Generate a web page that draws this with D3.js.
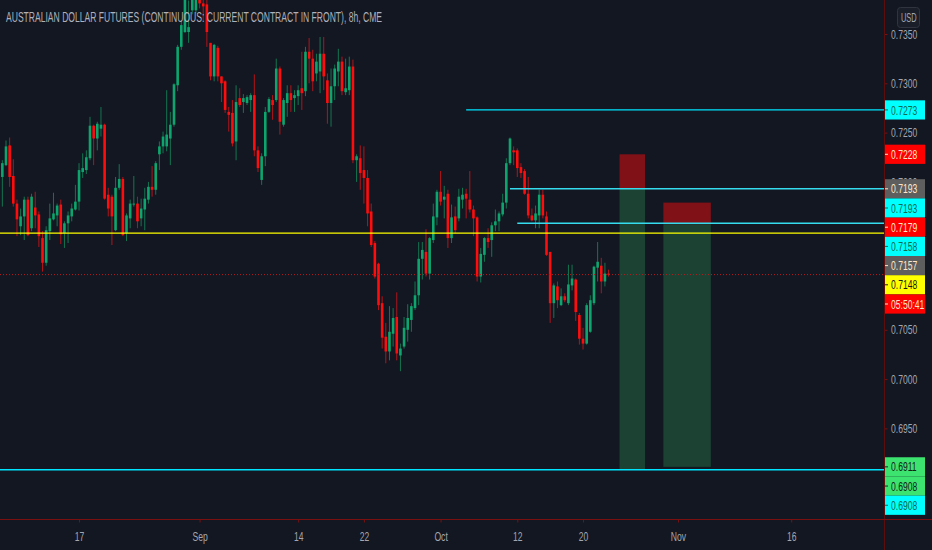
<!DOCTYPE html>
<html><head><meta charset="utf-8">
<script src="https://cdn.jsdelivr.net/npm/d3@7"></script>
<style>html,body{margin:0;padding:0;background:#131722;overflow:hidden}</style>
</head><body><svg id="c" width="932" height="550"></svg>
<script>
const title = "AUSTRALIAN DOLLAR FUTURES (CONTINUOUS: CURRENT CONTRACT IN FRONT), 8h, CME";

const opens = [0.7194,0.7205,0.7217,0.7237,0.7206,0.7178,0.7155,0.7165,0.7182,0.7153,0.7174,0.7167,0.7143,0.7118,0.7150,0.7162,0.7166,0.7177,0.7148,0.7158,0.7165,0.7172,0.7180,0.7210,0.7212,0.7224,0.7257,0.7244,0.7254,0.7258,0.7187,0.7185,0.7151,0.7194,0.7203,0.7148,0.7163,0.7177,0.7178,0.7163,0.7172,0.7182,0.7195,
0.7192,0.7228,0.7236,0.7236,0.7244,0.7258,0.7298,0.7337,0.7352,0.7352,0.7374,0.7374,0.7386,0.7381,0.7380,0.7341,0.7307,0.7336,0.7307,0.7302,0.7271,0.7270,0.7241,0.7285,0.7281,0.7280,0.7283,0.7288,0.7232,0.7202,0.7226,0.7271,0.7283,0.7283,0.7315,0.7258,0.7280,0.7290,0.7285,0.7287,0.7295,
0.7292,0.7332,0.7325,0.7310,0.7312,0.7330,0.7303,0.7280,0.7297,0.7312,0.7322,0.7291,0.7293,0.7317,0.7222,0.7224,0.7212,0.7204,0.7170,0.7138,0.7117,0.7077,0.7043,0.7028,0.7046,0.7063,0.7024,0.7033,0.7050,0.7060,0.7072,0.7085,0.7122,0.7129,0.7107,0.7141,0.7164,0.7190,0.7182,0.7188,0.7143,
0.7165,0.7163,0.7182,0.7188,0.7182,0.7172,0.7164,0.7104,0.7126,0.7143,0.7141,0.7156,0.7160,0.7167,0.7179,0.7219,0.7232,0.7232,0.7215,0.7211,0.7188,0.7166,0.7161,0.7166,0.7187,0.7165,0.7129,0.7077,0.7094,0.7075,0.7084,0.7077,0.7095,0.7101,0.7065,0.7041,0.7036,0.7048,0.7077,0.7113,0.7115,0.7099,0.7107];
const highs = [0.7209,0.7222,0.7242,0.7245,0.7223,0.7182,0.7173,0.7185,0.7185,0.7188,0.7190,0.7170,0.7150,0.7155,0.7178,0.7189,0.7178,0.7182,0.7160,0.7170,0.7178,0.7197,0.7219,0.7229,0.7232,0.7266,0.7258,0.7261,0.7276,0.7259,0.7194,0.7187,0.7205,0.7218,0.7205,0.7168,0.7182,0.7206,0.7185,0.7183,0.7194,0.7200,0.7216,
0.7221,0.7241,0.7251,0.7293,0.7271,0.7300,0.7339,0.7364,0.7395,0.7384,0.7398,0.7395,0.7395,0.7390,0.7386,0.7341,0.7340,0.7338,0.7307,0.7303,0.7276,0.7283,0.7298,0.7295,0.7289,0.7288,0.7290,0.7309,0.7236,0.7229,0.7276,0.7286,0.7288,0.7325,0.7317,0.7285,0.7298,0.7298,0.7293,0.7298,0.7332,
0.7337,0.7346,0.7334,0.7330,0.7347,0.7347,0.7310,0.7315,0.7319,0.7335,0.7327,0.7325,0.7327,0.7324,0.7228,0.7237,0.7236,0.7212,0.7178,0.7140,0.7118,0.7084,0.7057,0.7074,0.7072,0.7088,0.7036,0.7063,0.7076,0.7077,0.7099,0.7139,0.7139,0.7152,0.7144,0.7178,0.7192,0.7211,0.7196,0.7192,0.7177,
0.7175,0.7193,0.7194,0.7193,0.7211,0.7176,0.7165,0.7133,0.7144,0.7153,0.7159,0.7172,0.7170,0.7188,0.7224,0.7245,0.7236,0.7234,0.7219,0.7213,0.7205,0.7173,0.7176,0.7192,0.7192,0.7170,0.7129,0.7097,0.7099,0.7092,0.7087,0.7116,0.7116,0.7102,0.7067,0.7052,0.7077,0.7085,0.7115,0.7139,0.7123,0.7118,0.7111];
const lows = [0.7192,0.7175,0.7216,0.7195,0.7175,0.7145,0.7146,0.7141,0.7145,0.7150,0.7153,0.7134,0.7109,0.7115,0.7141,0.7161,0.7155,0.7137,0.7133,0.7138,0.7160,0.7171,0.7171,0.7204,0.7208,0.7222,0.7217,0.7232,0.7246,0.7182,0.7165,0.7136,0.7150,0.7192,0.7145,0.7140,0.7153,0.7175,0.7153,0.7155,0.7151,0.7178,0.7185,
0.7187,0.7212,0.7229,0.7231,0.7217,0.7256,0.7292,0.7334,0.7351,0.7341,0.7370,0.7371,0.7376,0.7364,0.7337,0.7303,0.7302,0.7302,0.7281,0.7270,0.7251,0.7236,0.7222,0.7276,0.7270,0.7278,0.7271,0.7226,0.7210,0.7197,0.7216,0.7270,0.7263,0.7281,0.7248,0.7256,0.7266,0.7271,0.7271,0.7278,0.7273,
0.7287,0.7300,0.7292,0.7302,0.7290,0.7293,0.7259,0.7256,0.7283,0.7297,0.7288,0.7288,0.7288,0.7219,0.7200,0.7192,0.7178,0.7155,0.7134,0.7102,0.7070,0.7031,0.7016,0.7019,0.7033,0.7019,0.7008,0.7031,0.7038,0.7048,0.7070,0.7075,0.7101,0.7104,0.7101,0.7138,0.7156,0.7176,0.7163,0.7133,0.7138,
0.7148,0.7160,0.7173,0.7163,0.7169,0.7145,0.7099,0.7098,0.7119,0.7133,0.7124,0.7150,0.7150,0.7165,0.7173,0.7217,0.7217,0.7205,0.7204,0.7187,0.7163,0.7160,0.7153,0.7153,0.7163,0.7125,0.7057,0.7062,0.7072,0.7074,0.7078,0.7075,0.7090,0.7059,0.7035,0.7030,0.7035,0.7047,0.7075,0.7099,0.7087,0.7094,0.7104];
const closes = [0.7206,0.7219,0.7236,0.7205,0.7178,0.7162,0.7165,0.7182,0.7146,0.7185,0.7166,0.7145,0.7118,0.7151,0.7163,0.7168,0.7176,0.7147,0.7158,0.7166,0.7173,0.7180,0.7212,0.7214,0.7225,0.7257,0.7244,0.7259,0.7258,0.7183,0.7173,0.7165,0.7194,0.7203,0.7146,0.7166,0.7178,0.7178,0.7160,0.7173,0.7183,0.7195,0.7192,
0.7219,0.7236,0.7246,0.7248,0.7258,0.7299,0.7337,0.7359,0.7388,0.7357,0.7391,0.7388,0.7381,0.7378,0.7352,0.7307,0.7339,0.7307,0.7300,0.7273,0.7268,0.7239,0.7281,0.7278,0.7285,0.7286,0.7288,0.7232,0.7214,0.7226,0.7271,0.7284,0.7278,0.7315,0.7261,0.7283,0.7290,0.7283,0.7288,0.7293,0.7290,
0.7332,0.7325,0.7302,0.7322,0.7330,0.7307,0.7280,0.7297,0.7315,0.7322,0.7292,0.7295,0.7317,0.7222,0.7226,0.7209,0.7204,0.7168,0.7136,0.7104,0.7075,0.7042,0.7028,0.7048,0.7062,0.7026,0.7031,0.7052,0.7062,0.7074,0.7085,0.7122,0.7131,0.7107,0.7143,0.7165,0.7190,0.7180,0.7185,0.7143,0.7164,
0.7151,0.7185,0.7187,0.7183,0.7172,0.7163,0.7104,0.7127,0.7143,0.7139,0.7156,0.7160,0.7168,0.7179,0.7219,0.7244,0.7230,0.7214,0.7209,0.7188,0.7166,0.7161,0.7168,0.7187,0.7166,0.7126,0.7077,0.7095,0.7080,0.7084,0.7080,0.7096,0.7102,0.7068,0.7041,0.7036,0.7075,0.7080,0.7114,0.7119,0.7099,0.7107,0.7106];

const priceTicks = [0.6950,0.7000,0.7050,0.7100,0.7150,0.7200,0.7250,0.7300,0.7350];
const dateTickBars = [22,55,82,100,121,142,160,186,217];
const dateTickLabels = ["17","Sep","14","22","Oct","12","20","Nov","16"];

const lastPrice = 0.7106;
const countdown = "05:50:41";

const posFrom   = [170,182];
const posTo     = [177,195];
const posStop   = [0.7228,0.7179];
const posEntry  = [0.7193,0.7157];
const posTarget = [0.6908,0.6911];

const hLinePrices = [0.7273,0.7193,0.7158,0.7148,0.6908];
const hLineStart  = [128,140,142,-5,-5];
const hLineColors = ["#00e5ff","#35dcee","#35dcee","#ffff00","#00e5ff"];

const labelTexts  = ["0.7273","0.7228","0.7193","0.7193","0.7179","0.7158","0.7157","0.7148",countdown,"0.6911","0.6908","0.6908"];
const labelPrices = [0.7273,0.7228,0.7193,0.7193,0.7179,0.7158,0.7157,0.7148,lastPrice,0.6911,0.6908,0.6908];
const labelKinds  = ["cyan","red","gray","cyan","red","cyan","gray","yellow","red","green","green","cyan"];
const kindStyle = {
  cyan:{bg:"#00ffff",fg:"#0b6b4d"}, red:{bg:"#ff0000",fg:"#ffe6c8"},
  gray:{bg:"#5e5e5e",fg:"#ffe6c8"}, yellow:{bg:"#ffff00",fg:"#1a1a1a"},
  green:{bg:"#3de36f",fg:"#14241a"}
};

const W = 932, H = 550, plotR = 884.5, plotB = 519.5;
const FONT = "'Liberation Sans', Arial, sans-serif";
const svg = d3.select("#c");
svg.append("rect").attr("width",W).attr("height",H).attr("fill","#131722");

const x = d3.scaleLinear().domain([0,240]).range([-1.3,-1.3+240*3.652]);
const y = d3.scaleLinear().domain([0.6950,0.7350]).range([428.4,34]);

svg.append("clipPath").attr("id","plotclip").append("rect")
  .attr("x",0).attr("y",0).attr("width",plotR).attr("height",plotB);
const plot = svg.append("g").attr("clip-path","url(#plotclip)");

// position boxes
const pos = posFrom.map((f,i)=>({f,t:posTo[i],s:posStop[i],e:posEntry[i],tg:posTarget[i]}));
plot.selectAll("rect.stop").data(pos).join("rect").attr("class","stop")
  .attr("x",d=>x(d.f)).attr("width",d=>x(d.t)-x(d.f))
  .attr("y",d=>y(d.s)).attr("height",d=>y(d.e)-y(d.s)).attr("fill","#7f1117");
plot.selectAll("rect.prof").data(pos).join("rect").attr("class","prof")
  .attr("x",d=>x(d.f)).attr("width",d=>x(d.t)-x(d.f))
  .attr("y",d=>y(d.e)).attr("height",d=>y(d.tg)-y(d.e)).attr("fill","#1b4232");

// candles
const bars = opens.map((o,i)=>({i,o,h:highs[i],l:lows[i],c:closes[i]}));
const up = d=>d.c>=d.o;
plot.selectAll("line.wick").data(bars).join("line").attr("class","wick")
  .attr("x1",d=>x(d.i)).attr("x2",d=>x(d.i))
  .attr("y1",d=>y(d.h)).attr("y2",d=>y(d.l))
  .attr("stroke",d=>up(d)?"#14754f":"#b3141a").attr("stroke-width",1);
plot.selectAll("rect.body").data(bars).join("rect").attr("class","body")
  .attr("x",d=>x(d.i)-1.3).attr("width",2.6)
  .attr("y",d=>y(Math.max(d.o,d.c)))
  .attr("height",d=>Math.max(1,Math.abs(y(d.o)-y(d.c))))
  .attr("fill",d=>up(d)?"#0da56d":"#ff0d0d");

// horizontal lines
const hl = hLinePrices.map((p,i)=>({p,s:hLineStart[i],c:hLineColors[i]}));
plot.selectAll("line.hl").data(hl).join("line").attr("class","hl")
  .attr("x1",d=>x(d.s)).attr("x2",plotR)
  .attr("y1",d=>y(d.p)).attr("y2",d=>y(d.p))
  .attr("stroke",d=>d.c).attr("stroke-width",1.4);

// last price dotted line
plot.append("line").attr("x1",0).attr("x2",plotR)
  .attr("y1",y(lastPrice)).attr("y2",y(lastPrice))
  .attr("stroke","#b71c1c").attr("stroke-width",1).attr("stroke-dasharray","1,2");

// title
svg.append("text").attr("x",6).attr("y",22).text(title)
  .attr("font-family",FONT).attr("font-size",14).attr("fill","#aeb1ba")
  .attr("textLength",376).attr("lengthAdjust","spacingAndGlyphs");

function squeeze(sel, f){
  sel.each(function(){
    const w = this.getComputedTextLength();
    this.setAttribute("textLength", (w*f).toFixed(1));
    this.setAttribute("lengthAdjust","spacingAndGlyphs");
  });
}

// price labels with stacking
const LH = 19.2;
let prev = -1e9;
const labels = labelTexts.map((t,i)=>{
  let cy = y(labelPrices[i]);
  if (cy < prev + LH) cy = prev + LH;
  prev = cy;
  return {t, cy, st:kindStyle[labelKinds[i]]};
});
const covered = v => labels.some(l => y(v)-4.5 >= l.cy-LH/2 && y(v)+4.5 <= l.cy+LH/2);

// price axis
const yAxis = d3.axisRight(y).tickValues(priceTicks).tickFormat(d3.format(".4f"))
  .tickSize(3).tickPadding(3.5);
const gy = svg.append("g").attr("transform",`translate(${plotR},0)`).call(yAxis);
gy.select(".domain").remove();
gy.selectAll(".tick line").attr("stroke","#7a1010");
gy.selectAll(".tick text").attr("fill","#a3a6af").attr("font-family",FONT).attr("font-size",13)
  .attr("visibility",d=>covered(d)?"hidden":"visible");
squeeze(gy.selectAll(".tick text"),0.66);

// time axis
const xAxis = d3.axisBottom(x).tickValues(dateTickBars)
  .tickFormat((d,i)=>dateTickLabels[i]).tickSize(3).tickPadding(9);
const gx = svg.append("g").attr("transform",`translate(0,${plotB})`).call(xAxis);
gx.select(".domain").remove();
gx.selectAll(".tick line").attr("stroke","#7a1010");
gx.selectAll(".tick text").attr("fill","#a3a6af").attr("font-family",FONT).attr("font-size",13);
squeeze(gx.selectAll(".tick text"),0.66);

// axis border lines
svg.append("line").attr("x1",plotR).attr("x2",plotR).attr("y1",0).attr("y2",H)
  .attr("stroke","#5e0d0d").attr("stroke-width",1);
svg.append("line").attr("x1",0).attr("x2",W).attr("y1",plotB).attr("y2",plotB)
  .attr("stroke","#7a1010").attr("stroke-width",1);

const gl = svg.append("g");
const lg = gl.selectAll("g").data(labels).join("g")
  .attr("transform",d=>`translate(${plotR+0.5},${d.cy})`);
lg.append("rect").attr("x",0).attr("y",-LH/2).attr("width",40).attr("height",LH)
  .attr("fill",d=>d.st.bg);
lg.append("line").attr("x1",0).attr("x2",3).attr("y1",0).attr("y2",0)
  .attr("stroke",d=>d.st.fg).attr("stroke-width",1);
lg.append("text").attr("transform","translate(6,4.6) scale(0.66,1)").text(d=>d.t)
  .attr("fill",d=>d.st.fg).attr("font-family",FONT).attr("font-size",13);

// USD button
svg.append("rect").attr("x",897.5).attr("y",7.5).attr("width",22).attr("height",20).attr("rx",3)
  .attr("fill","#1a1e29").attr("stroke","#30343f");
svg.append("text").attr("transform","translate(901,21.5) scale(0.62,1)").text("USD")
  .attr("fill","#a3a6af").attr("font-family",FONT).attr("font-size",12);
</script></body></html>
